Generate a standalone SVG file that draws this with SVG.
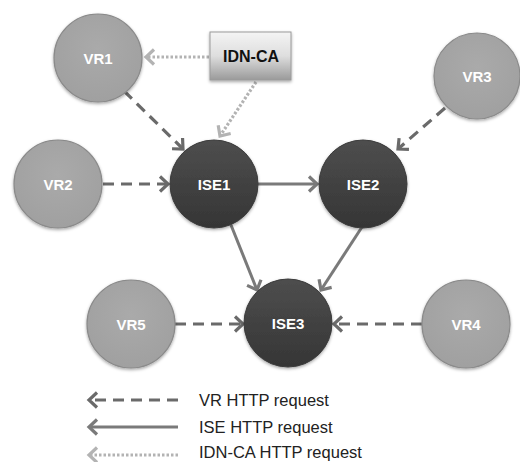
<svg xmlns="http://www.w3.org/2000/svg" width="520" height="462" viewBox="0 0 520 462">
<style>
.vr{fill:url(#gVR);stroke:#8a8a8a;stroke-width:1.2}
.ise{fill:url(#gISE);stroke:#3a3a3a;stroke-width:1}
.lbl{font-family:"Liberation Sans",Arial,sans-serif;font-weight:bold;font-size:15px;fill:#ffffff;text-anchor:middle;dominant-baseline:central}
.box{font-family:"Liberation Sans",Arial,sans-serif;font-weight:bold;font-size:16px;fill:#111;text-anchor:middle;dominant-baseline:central}
.leg{font-family:"Liberation Sans",Arial,sans-serif;font-size:16.5px;fill:#222}
.dash{stroke:#6a6a6a;stroke-width:3.2;stroke-dasharray:11 7;fill:none;marker-end:url(#aDash)}
.solid{stroke:#7a7a7a;stroke-width:3;fill:none;marker-end:url(#aSolid)}
.dot{stroke:#b3b3b3;stroke-width:3.2;stroke-dasharray:2.5 2;fill:none;marker-end:url(#aDot)}
</style>
<defs>
<radialGradient id="gVR" cx="0.5" cy="0.4" r="0.6"><stop offset="0" stop-color="#aaaaaa"/><stop offset="1" stop-color="#a0a0a0"/></radialGradient>
<linearGradient id="gISE" x1="0" y1="0" x2="0" y2="1"><stop offset="0" stop-color="#4e4e4e"/><stop offset="1" stop-color="#353535"/></linearGradient>
<linearGradient id="gBox" x1="0" y1="0" x2="0" y2="1"><stop offset="0" stop-color="#f4f4f4"/><stop offset="0.5" stop-color="#dedede"/><stop offset="1" stop-color="#9a9a9a"/></linearGradient>
<filter id="sh" x="-20%" y="-20%" width="140%" height="140%"><feDropShadow dx="0" dy="1.5" stdDeviation="1.5" flood-color="#000" flood-opacity="0.35"/></filter>
<marker id="aDash" markerUnits="userSpaceOnUse" markerWidth="14" markerHeight="18" refX="10" refY="9" orient="auto"><path d="M2,1.5 L10,9 L2,16.5" fill="none" stroke="#6a6a6a" stroke-width="3.2"/></marker>
<marker id="aSolid" markerUnits="userSpaceOnUse" markerWidth="14" markerHeight="18" refX="10" refY="9" orient="auto"><path d="M2,1.5 L10,9 L2,16.5" fill="none" stroke="#7a7a7a" stroke-width="3.2"/></marker>
<marker id="aDot" markerUnits="userSpaceOnUse" markerWidth="14" markerHeight="18" refX="10" refY="9" orient="auto"><path d="M2,1.5 L10,9 L2,16.5" fill="none" stroke="#b3b3b3" stroke-width="3.2"/></marker>
</defs>
<rect width="520" height="462" fill="#ffffff"/>
<g id="connectors">
<line class="dot" x1="209" y1="57" x2="146" y2="57"/>
<line class="dot" x1="256" y1="82" x2="220" y2="136"/>
<line class="dash" x1="124" y1="91" x2="183" y2="149"/>
<line class="dash" x1="103" y1="184" x2="168" y2="184"/>
<line class="dash" x1="445" y1="108" x2="398" y2="149"/>
<line class="solid" x1="258" y1="184" x2="317" y2="184"/>
<line class="solid" x1="231" y1="225" x2="257" y2="290"/>
<line class="solid" x1="362" y1="227" x2="321" y2="290"/>
<line class="dash" x1="175" y1="324" x2="243" y2="324"/>
<line class="dash" x1="422" y1="324" x2="334" y2="324"/>
</g>
<g id="IDN-CA"><rect x="210" y="32" width="81" height="48" fill="url(#gBox)" stroke="#9a9a9a" stroke-width="1" filter="url(#sh)"/><text class="box" x="251" y="56">IDN-CA</text></g>
<g id="VR1"><circle class="vr" cx="98" cy="58" r="44" filter="url(#sh)"/><text class="lbl" x="98" y="58">VR1</text></g>
<g id="VR2"><circle class="vr" cx="58" cy="184" r="44" filter="url(#sh)"/><text class="lbl" x="58" y="184">VR2</text></g>
<g id="VR3"><circle class="vr" cx="477" cy="76" r="43" filter="url(#sh)"/><text class="lbl" x="477" y="76">VR3</text></g>
<g id="ISE1"><circle class="ise" cx="214" cy="184" r="44" filter="url(#sh)"/><text class="lbl" x="214" y="184">ISE1</text></g>
<g id="ISE2"><circle class="ise" cx="363" cy="184" r="44" filter="url(#sh)"/><text class="lbl" x="363" y="184">ISE2</text></g>
<g id="ISE3"><circle class="ise" cx="288" cy="323" r="44" filter="url(#sh)"/><text class="lbl" x="288" y="323">ISE3</text></g>
<g id="VR5"><circle class="vr" cx="131" cy="324" r="44" filter="url(#sh)"/><text class="lbl" x="131" y="324">VR5</text></g>
<g id="VR4"><circle class="vr" cx="466" cy="324" r="44" filter="url(#sh)"/><text class="lbl" x="466" y="324">VR4</text></g>
<g id="legend">
<line class="dash" x1="178" y1="400" x2="89" y2="400"/>
<line class="solid" x1="178" y1="427" x2="89" y2="427"/>
<line class="dot" x1="178" y1="455" x2="89" y2="455"/>
<text class="leg" x="199" y="406">VR HTTP request</text>
<text class="leg" x="199" y="433">ISE HTTP request</text>
<text class="leg" x="199" y="458">IDN-CA HTTP request</text>
</g>
</svg>
